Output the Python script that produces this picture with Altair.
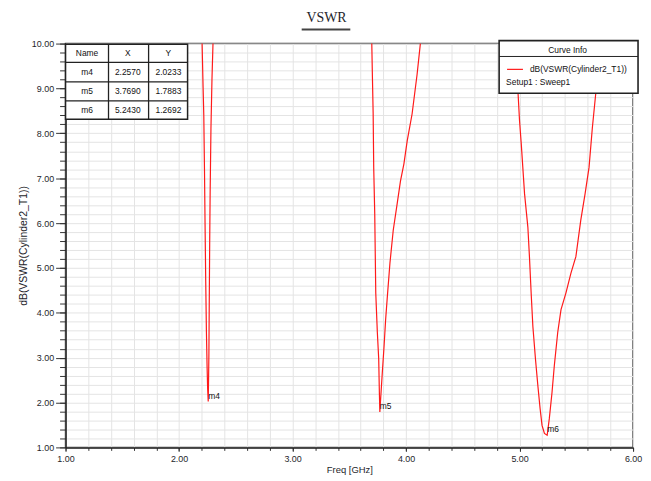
import altair as alt
import pandas as pd

# ---- curve samples: three resonance dips ----
dip1_freq = [2.203, 2.212, 2.218, 2.224, 2.229, 2.235, 2.241, 2.247, 2.252, 2.257,
             2.260, 2.263, 2.266, 2.270, 2.274, 2.281, 2.290, 2.299]
dip1_db = [10.00, 9.00, 8.40, 7.20, 6.00, 4.70, 3.60, 2.80, 2.30, 2.0233,
           2.50, 3.10, 4.20, 5.60, 6.70, 8.10, 9.20, 10.00]

dip2_freq = [3.698, 3.704, 3.710, 3.715, 3.724, 3.733, 3.747, 3.759, 3.765, 3.769,
             3.776, 3.791, 3.806, 3.820, 3.835, 3.858, 3.887, 3.922, 3.951, 3.981,
             4.010, 4.053, 4.097, 4.126]
dip2_db = [10.00, 9.20, 8.45, 7.23, 6.21, 4.44, 3.56, 2.97, 2.20, 1.7883,
           2.08, 2.68, 3.25, 3.85, 4.36, 5.11, 5.84, 6.44, 6.94, 7.32,
           7.83, 8.43, 9.31, 10.00]

dip3_freq = [4.960, 4.975, 4.986, 5.000, 5.015, 5.044, 5.073, 5.087, 5.102, 5.117,
             5.140, 5.161, 5.181, 5.198, 5.219, 5.243,
             5.262, 5.286, 5.306, 5.336, 5.365, 5.408, 5.452, 5.496, 5.539, 5.577,
             5.612, 5.641, 5.670, 5.695, 5.715]
dip3_db = [10.00, 9.40, 8.92, 8.27, 7.76, 6.65, 5.91, 5.25, 4.44, 3.70,
           2.97, 2.38, 1.86, 1.49, 1.31, 1.2692,
           1.64, 2.23, 2.82, 3.56, 4.07, 4.44, 4.88, 5.25, 6.06, 6.65,
           7.24, 8.12, 8.86, 9.50, 10.00]

# ---- markers ----
marker_names = ["m4", "m5", "m6"]
marker_freq = [2.2570, 3.7690, 5.2430]
marker_db = [2.0233, 1.7883, 1.2692]

# ---- axis ticks ----
x_major = [1.0, 2.0, 3.0, 4.0, 5.0, 6.0]
x_minor = [round(1.0 + 0.2 * i, 1) for i in range(26)]
y_major = [1.0, 2.0, 3.0, 4.0, 5.0, 6.0, 7.0, 8.0, 9.0, 10.0]
y_minor = [round(1.0 + 0.2 * i, 1) for i in range(46)]

FONT = "Liberation Sans"
TXT = "#1e1e2a"

rows = []
for dip, (fs, ds) in enumerate([(dip1_freq, dip1_db), (dip2_freq, dip2_db), (dip3_freq, dip3_db)]):
    for i, (f, d) in enumerate(zip(fs, ds)):
        rows.append({"dip": dip, "idx": i, "freq": f, "db": d})
curve_df = pd.DataFrame(rows)

marker_df = pd.DataFrame({"name": marker_names, "freq": marker_freq, "db": marker_db})

cells = [{"r": 0, "c": 0, "text": "Name"}, {"r": 0, "c": 1, "text": "X"}, {"r": 0, "c": 2, "text": "Y"}]
for i, (n, f, d) in enumerate(zip(marker_names, marker_freq, marker_db)):
    cells += [{"r": i + 1, "c": 0, "text": n},
              {"r": i + 1, "c": 1, "text": f"{f:.4f}"},
              {"r": i + 1, "c": 2, "text": f"{d:.4f}"}]
cells_df = pd.DataFrame(cells)

dummy = pd.DataFrame({"k": [0]})

xs = alt.Scale(domain=[1, 6], nice=False, zero=False)
ys = alt.Scale(domain=[1, 10], nice=False, zero=False)

major_x = alt.Axis(orient="bottom", values=x_major, format=".2f", labelFlush=False, labelOverlap=False,
                   tickSize=4, tickColor="#333", domainColor="#222", domainWidth=1.5,
                   gridColor="#bdbdbd", gridWidth=1, labelFont=FONT, labelFontSize=9,
                   labelColor=TXT, labelPadding=3, title="Freq [GHz]", titleFont=FONT,
                   titleFontSize=9.5, titleFontWeight="normal", titleColor=TXT, titlePadding=1)
minor_x = alt.Axis(orient="bottom", values=x_minor, labels=False, tickSize=3, tickColor="#333",
                   domain=False, gridColor="#e4e4e4", gridWidth=1, title=None)
major_y = alt.Axis(orient="left", values=y_major, format=".2f", labelOverlap=False,
                   tickSize=10, tickColor="#333", domainColor="#222", domainWidth=1.5,
                   gridColor="#bdbdbd", gridWidth=1, labelFont=FONT, labelFontSize=9,
                   labelColor=TXT, labelPadding=2, title="dB(VSWR(Cylinder2_T1))", titleFont=FONT,
                   titleFontSize=10.5, titleFontWeight="normal", titleColor=TXT, titlePadding=3)
minor_y = alt.Axis(orient="left", values=y_minor, labels=False, tickSize=6, tickColor="#333",
                   domain=False, gridColor="#e4e4e4", gridWidth=1, title=None)

minor_layer = alt.Chart(curve_df).mark_line(opacity=0).encode(
    x=alt.X("freq:Q", scale=xs, axis=minor_x),
    y=alt.Y("db:Q", scale=ys, axis=minor_y),
    detail="dip:N",
)

curve = alt.Chart(curve_df).mark_line(color="#ff1a1a", strokeWidth=1.2).encode(
    x=alt.X("freq:Q", scale=xs, axis=major_x),
    y=alt.Y("db:Q", scale=ys, axis=major_y),
    detail="dip:N",
    order="idx:Q",
)

marker_text = alt.Chart(marker_df).mark_text(align="left", baseline="middle", dx=0, dy=-6,
                                             font=FONT, fontSize=8.5, color="#111").encode(
    x=alt.X("freq:Q", scale=xs, axis=None),
    y=alt.Y("db:Q", scale=ys, axis=None),
    text="name:N",
)

# ---- marker table (top-left) ----
tbl_rect = alt.Chart(dummy).mark_rect(fill="white", stroke="#222", strokeWidth=1.5).encode(
    x=alt.value(0), x2=alt.value(123), y=alt.value(0.7), y2=alt.value(76.3))
tbl_lines = []
for cx in [43.3, 83.7]:
    tbl_lines.append(alt.Chart(dummy).mark_rule(color="#222", strokeWidth=1.3).encode(
        x=alt.value(cx), y=alt.value(0.7), y2=alt.value(76.3)))
for ry in [19.0, 38.5, 57.8]:
    tbl_lines.append(alt.Chart(dummy).mark_rule(color="#222", strokeWidth=1.3).encode(
        x=alt.value(0), x2=alt.value(123), y=alt.value(ry)))
tbl_text = alt.Chart(cells_df).mark_text(align="center", baseline="middle", font=FONT,
                                         fontSize=8.5, color="#111").transform_calculate(
    px="21.7 + datum.c * 41", py="9.9 + datum.r * 19.1").encode(
    x=alt.X("px:Q", scale=None, axis=None),
    y=alt.Y("py:Q", scale=None, axis=None),
    text="text:N",
)

# ---- curve info box (top-right) ----
lg_rect = alt.Chart(dummy).mark_rect(fill="white", stroke="#222", strokeWidth=1.6).encode(
    x=alt.value(437), x2=alt.value(577), y=alt.value(-3), y2=alt.value(50))
lg_sep = alt.Chart(dummy).mark_rule(color="#222", strokeWidth=1).encode(
    x=alt.value(437), x2=alt.value(577), y=alt.value(13))
lg_head = alt.Chart(dummy).mark_text(text="Curve Info", align="center", baseline="middle",
                                     font=FONT, fontSize=8.5, color="#111").encode(
    x=alt.value(506), y=alt.value(6.5))
lg_line = alt.Chart(dummy).mark_rule(color="#ff1a1a", strokeWidth=1.2).encode(
    x=alt.value(445), x2=alt.value(461), y=alt.value(26))
lg_name = alt.Chart(dummy).mark_text(text="dB(VSWR(Cylinder2_T1))", align="left", baseline="middle",
                                     font=FONT, fontSize=8.5, color="#111").encode(
    x=alt.value(468), y=alt.value(26))
lg_setup = alt.Chart(dummy).mark_text(text="Setup1 : Sweep1", align="left", baseline="middle",
                                      font=FONT, fontSize=8.5, color="#111").encode(
    x=alt.value(444), y=alt.value(39))

# ---- title ----
title_txt = alt.Chart(dummy).mark_text(text="VSWR", align="center", baseline="alphabetic",
                                       font="Liberation Serif", fontSize=14, color="#1e1e2a").encode(
    x=alt.value(263), y=alt.value(-22))
title_line = alt.Chart(dummy).mark_rule(color="#444", strokeWidth=2).encode(
    x=alt.value(238), x2=alt.value(287), y=alt.value(-14.3))

chart = alt.layer(
    minor_layer, curve, marker_text,
    tbl_rect, *tbl_lines, tbl_text,
    lg_rect, lg_sep, lg_head, lg_line, lg_name, lg_setup,
    title_txt, title_line,
).resolve_axis(x="independent", y="independent").properties(
    width=572, height=407, autosize="none",
    padding={"left": 58, "top": 34, "right": 10, "bottom": 30},
    background="white",
).configure_view(stroke="#444", strokeWidth=1.5)

chart.save("out.html", embed_options={"renderer": "svg", "actions": False})
